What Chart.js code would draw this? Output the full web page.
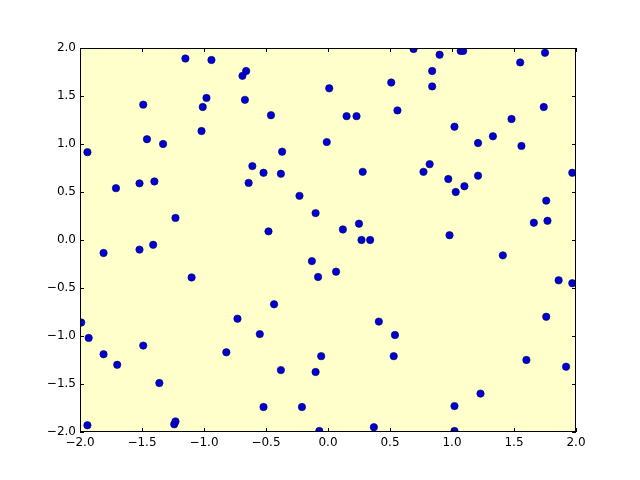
<!DOCTYPE html>
<html>
<head>
<meta charset="utf-8">
<script src="https://cdn.jsdelivr.net/npm/chart.js@4/dist/chart.umd.min.js"></script>
<style>
  html, body { margin: 0; padding: 0; background: #fff; }
  #wrap { width: 640px; height: 480px; }
</style>
</head>
<body>
<div id="wrap"><canvas id="c" width="640" height="480"></canvas></div>
<script>
// scatter values
const xs = [
  -1.99, -1.94, -1.94, -1.93, -1.81, -1.81, -1.71, -1.70, -1.52, -1.52,
  -1.49, -1.49, -1.46, -1.40, -1.41, -1.36, -1.33, -1.23, -1.24, -1.23,
  -1.15, -1.10, -1.02, -1.01, -0.98, -0.94, -0.82, -0.73, -0.69, -0.66,
  -0.67, -0.64, -0.61, -0.55, -0.52, -0.52, -0.48, -0.46, -0.435, -0.38,
  -0.37, -0.38, -0.23, -0.21, -0.13, -0.10, -0.10, -0.08, -0.07, -0.055,
  -0.01, 0.01, 0.065, 0.12, 0.15, 0.23, 0.25, 0.27, 0.28, 0.34,
  0.37, 0.41, 0.51, 0.53, 0.54, 0.56, 0.69, 0.77, 0.82, 0.84,
  0.84, 0.90, 0.97, 0.98, 1.02, 1.02, 1.02, 1.03, 1.07, 1.09,
  1.10, 1.21, 1.21, 1.23, 1.33, 1.41, 1.48, 1.55, 1.56, 1.60,
  1.66, 1.74, 1.75, 1.76, 1.76, 1.77, 1.86, 1.92, 1.97, 1.97
];
const ys = [
  -0.86, 0.915, -1.93, -1.02, -0.135, -1.19, 0.54, -1.30, 0.59, -0.10,
  1.41, -1.10, 1.05, 0.61, -0.05, -1.49, 1.00, 0.23, -1.92, -1.89,
  1.89, -0.39, 1.135, 1.385, 1.48, 1.875, -1.17, -0.82, 1.71, 1.76,
  1.46, 0.595, 0.77, -0.98, 0.70, -1.74, 0.09, 1.30, -0.67, 0.69,
  0.92, -1.355, 0.46, -1.74, -0.22, 0.28, -1.375, -0.385, -1.99, -1.21,
  1.02, 1.58, -0.33, 0.11, 1.29, 1.29, 0.17, 0.00, 0.71, 0.00,
  -1.95, -0.85, 1.64, -1.21, -0.99, 1.35, 1.99, 0.71, 0.79, 1.76,
  1.60, 1.93, 0.635, 0.05, 1.18, -1.73, -1.99, 0.50, 1.97, 1.97,
  0.56, 1.01, 0.67, -1.60, 1.08, -0.16, 1.26, 1.85, 0.98, -1.25,
  0.18, 1.385, 1.95, 0.41, -0.80, 0.20, -0.42, -1.32, 0.70, -0.45
];
const xTicks = [-2.0, -1.5, -1.0, -0.5, 0.0, 0.5, 1.0, 1.5, 2.0];
const yTicks = [-2.0, -1.5, -1.0, -0.5, 0.0, 0.5, 1.0, 1.5, 2.0];

const points = xs.map((x, i) => ({ x: x, y: ys[i] }));

function fmt(v) {
  return v.toFixed(1).replace("-", "\u2212");
}

// yellow axes face, frame and inward ticks on all four sides
const frame = {
  id: "frame",
  beforeDatasetsDraw(chart) {
    const a = chart.chartArea;
    const ctx = chart.ctx;
    ctx.save();
    ctx.fillStyle = "#ffffcc";
    ctx.fillRect(a.left, a.top, a.right - a.left, a.bottom - a.top);
    ctx.restore();
  },
  afterDatasetsDraw(chart) {
    const a = chart.chartArea;
    const ctx = chart.ctx;
    const sx = chart.scales.x, sy = chart.scales.y;
    ctx.save();
    ctx.strokeStyle = "#000";
    ctx.lineWidth = 1;
    ctx.beginPath();
    xTicks.forEach(t => {
      const px = Math.round(sx.getPixelForValue(t)) + 0.5;
      ctx.moveTo(px, a.bottom); ctx.lineTo(px, a.bottom - 4);
      ctx.moveTo(px, a.top); ctx.lineTo(px, a.top + 4);
    });
    yTicks.forEach(t => {
      const py = Math.round(sy.getPixelForValue(t)) + 0.5;
      ctx.moveTo(a.left, py); ctx.lineTo(a.left + 4, py);
      ctx.moveTo(a.right, py); ctx.lineTo(a.right - 4, py);
    });
    ctx.stroke();
    ctx.strokeRect(a.left + 0.5, a.top + 0.5, a.right - a.left - 1, a.bottom - a.top - 1);
    ctx.restore();
  }
};

new Chart(document.getElementById("c"), {
  type: "scatter",
  data: {
    datasets: [{
      data: points,
      backgroundColor: "#0000d0",
      borderColor: "#000060",
      borderWidth: 0.6,
      pointRadius: 3.7,
      clip: 0
    }]
  },
  options: {
    responsive: false,
    animation: false,
    layout: { padding: { left: 0, right: 64, top: 48, bottom: 0 } },
    plugins: { legend: { display: false }, tooltip: { enabled: false } },
    scales: {
      x: {
        type: "linear",
        min: -2, max: 2,
        afterFit(s) { s.height = 48; },
        afterBuildTicks(s) { s.ticks = xTicks.map(v => ({ value: v })); },
        grid: { display: false, drawTicks: false },
        border: { display: false },
        ticks: {
          color: "#000",
          padding: 4,
          maxRotation: 0,
          font: { family: "DejaVu Sans", size: 12 },
          callback: v => fmt(v)
        }
      },
      y: {
        type: "linear",
        min: -2, max: 2,
        afterFit(s) { s.width = 80; },
        afterBuildTicks(s) { s.ticks = yTicks.map(v => ({ value: v })); },
        grid: { display: false, drawTicks: false },
        border: { display: false },
        ticks: {
          color: "#000",
          padding: 4,
          font: { family: "DejaVu Sans", size: 12 },
          callback: v => fmt(v)
        }
      }
    }
  },
  plugins: [frame]
});
</script>
</body>
</html>
